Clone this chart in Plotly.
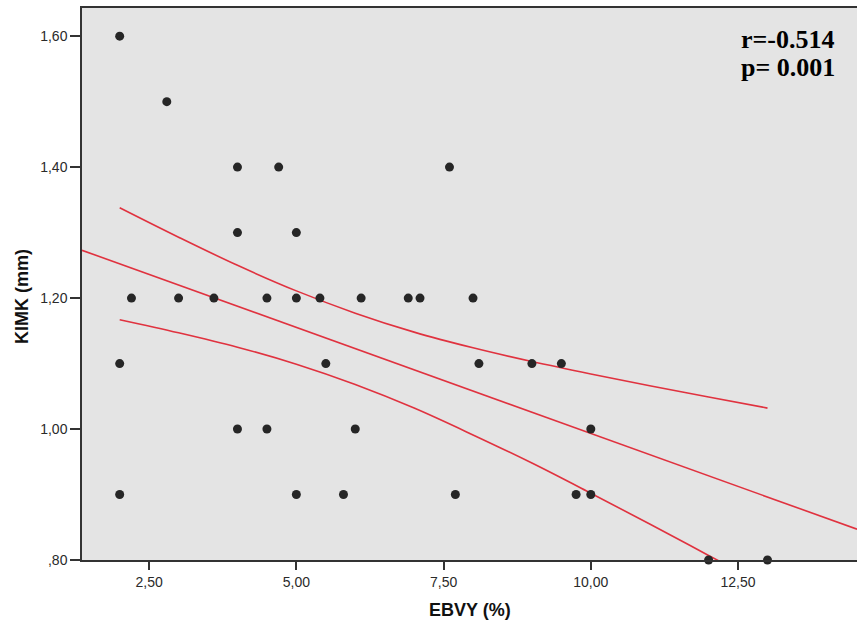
import plotly.graph_objects as go

# Scatter data (EBVY %, KIMK mm)
ebvy = [2.0, 2.8, 4.0, 4.7, 7.6, 4.0, 5.0,
        2.2, 3.0, 3.6, 4.5, 5.0, 5.4, 6.1, 6.9, 7.1, 8.0,
        2.0, 5.5, 8.1, 9.0, 9.5,
        4.0, 4.5, 6.0, 10.0,
        2.0, 5.0, 5.8, 7.7, 9.75, 10.0,
        12.0, 13.0]
kimk = [1.60, 1.50, 1.40, 1.40, 1.40, 1.30, 1.30,
        1.20, 1.20, 1.20, 1.20, 1.20, 1.20, 1.20, 1.20, 1.20, 1.20,
        1.10, 1.10, 1.10, 1.10, 1.10,
        1.00, 1.00, 1.00, 1.00,
        0.90, 0.90, 0.90, 0.90, 0.90, 0.90,
        0.80, 0.80]

# Fit line
fit_x = [1.36, 14.52]
fit_y = [1.273, 0.847]

# 95% confidence band of the mean
band_x = [2, 3, 4, 5, 6, 7, 8, 9, 10, 11, 12, 13]
band_upper = [1.338, 1.293, 1.250, 1.211, 1.177, 1.148, 1.124, 1.103, 1.084, 1.066, 1.049, 1.032]
band_lower = [1.167, 1.147, 1.125, 1.099, 1.068, 1.032, 0.991, 0.948, 0.902, 0.855, 0.807, 0.759]

x_ticks = [2.5, 5.0, 7.5, 10.0, 12.5]
x_ticklabels = ["2,50", "5,00", "7,50", "10,00", "12,50"]
y_ticks = [0.8, 1.0, 1.2, 1.4, 1.6]
y_ticklabels = [",80", "1,00", "1,20", "1,40", "1,60"]

RED = "#e0323f"

fig = go.Figure()
fig.add_trace(go.Scatter(x=fit_x, y=fit_y, mode="lines",
                         line=dict(color=RED, width=1.6), hoverinfo="skip"))
fig.add_trace(go.Scatter(x=band_x, y=band_upper, mode="lines",
                         line=dict(color=RED, width=1.6, shape="spline"), hoverinfo="skip"))
fig.add_trace(go.Scatter(x=band_x, y=band_lower, mode="lines",
                         line=dict(color=RED, width=1.6, shape="spline"), hoverinfo="skip"))
fig.add_trace(go.Scatter(x=ebvy, y=kimk, mode="markers",
                         marker=dict(color="#262626", size=9, line=dict(width=0)),
                         cliponaxis=False))

axis_font = dict(family="Liberation Sans, Arial, sans-serif", size=14, color="#2a2a2a")

fig.update_layout(
    width=857, height=623,
    margin=dict(l=82, r=0, t=8, b=63),
    paper_bgcolor="white",
    plot_bgcolor="#e4e4e4",
    showlegend=False,
    xaxis=dict(range=[1.36, 14.52], tickvals=x_ticks, ticktext=x_ticklabels,
               ticks="outside", ticklen=8, tickwidth=1.5, tickcolor="#333",
               showline=True, linecolor="#333", linewidth=1.5, mirror=True,
               showgrid=False, zeroline=False, tickfont=axis_font),
    yaxis=dict(range=[0.8, 1.643], tickvals=y_ticks, ticktext=y_ticklabels,
               ticks="outside", ticklen=10, tickwidth=1.5, tickcolor="#333",
               showline=True, linecolor="#333", linewidth=1.5,
               showgrid=False, zeroline=False, tickfont=axis_font),
    annotations=[
        dict(text="<b>EBVY (%)</b>", xref="paper", yref="paper",
             x=(470 - 82) / 775, y=-(610 - 560) / 552, xanchor="center", yanchor="middle",
             showarrow=False, font=dict(family="Liberation Sans, Arial, sans-serif", size=18, color="#111")),
        dict(text="<b>KIMK (mm)</b>", xref="paper", yref="paper",
             x=-(82 - 22) / 775, y=(560 - 297) / 552, xanchor="center", yanchor="middle",
             textangle=-90, showarrow=False,
             font=dict(family="Liberation Sans, Arial, sans-serif", size=18, color="#111")),
        dict(text="<b>r=-0.514</b>", xref="paper", yref="paper",
             x=(837 - 82) / 775, y=(560 - 39) / 552, xanchor="right", yanchor="middle",
             showarrow=False, font=dict(family="Liberation Serif, Times New Roman, serif", size=26, color="#000")),
        dict(text="<b>p= 0.001</b>", xref="paper", yref="paper",
             x=(837 - 82) / 775, y=(560 - 67) / 552, xanchor="right", yanchor="middle",
             showarrow=False, font=dict(family="Liberation Serif, Times New Roman, serif", size=26, color="#000")),
    ],
)

fig.write_html("out.html", config={"displayModeBar": False},
               post_script="document.body.style.margin='0';document.body.style.overflow='hidden';")
